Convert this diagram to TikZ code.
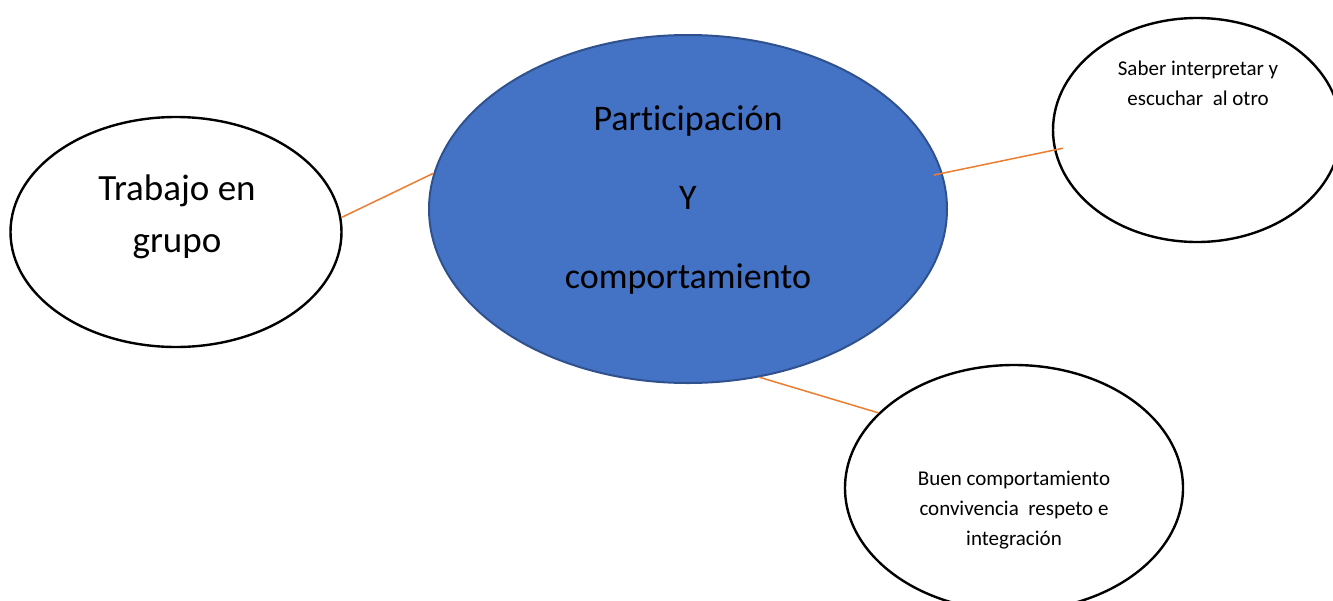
\documentclass[tikz,border=0pt]{standalone}
\usepackage{fontspec}
\setmainfont{Carlito}[Ligatures=NoCommon]
\usetikzlibrary{shapes.geometric}
\definecolor{hubblue}{HTML}{4472C4}
\definecolor{hubedge}{HTML}{2F528F}
\definecolor{linkorange}{HTML}{ED7D31}
\begin{document}
\begin{tikzpicture}[x=0.5pt, y=-0.5pt,
    bubble/.style={ellipse, draw=black, line width=1.2pt, fill=white, inner sep=0pt},
    hubshape/.style={ellipse, draw=hubedge, line width=1pt, fill=hubblue, inner sep=0pt},
    bigtext/.style={align=center, font=\fontsize{18.5}{26}\selectfont},
    hubtext/.style={align=center, font=\fontsize{18}{39.5}\selectfont},
    smalltext/.style={align=center, font=\fontsize{10.5}{15}\selectfont},
    link/.style={draw=linkorange, line width=0.75pt}
]
\clip (0,0) rectangle (1333,600);

\node[hubshape, minimum width=259pt, minimum height=174pt] (hub) at (688,209) {};
\node[bubble, minimum width=165.5pt, minimum height=115pt] (grupo) at (176,232) {};
\node[bubble, minimum width=144pt, minimum height=112pt] (escucha) at (1197,130) {};
\node[bubble, minimum width=169pt, minimum height=123pt] (respeto) at (1014,488) {};

\node[hubtext] (hubtxt) at (688,200) {Participación\\Y\\comportamiento};
\node[bigtext] (grupotxt) at (177,217) {Trabajo en\\grupo};
\node[smalltext] (escuchatxt) at (1198,83) {Saber interpretar y\\escuchar\ \ al otro};
\node[smalltext] (respetotxt) at (1014,510) {Buen comportamiento\\convivencia\ \ respeto e\\integración};

\draw[link] (grupo.5) -- (hub.172);
\draw[link, shorten <=-4.5pt, shorten >=-4.5pt] (hub.8) -- (escucha.188);
\draw[link] (hub.-67) -- (respeto.151);

\end{tikzpicture}
\end{document}
